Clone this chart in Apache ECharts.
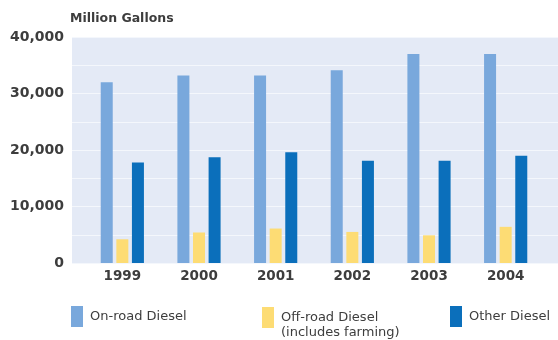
<!DOCTYPE html>
<html>
<head>
<meta charset="utf-8">
<script src="https://cdn.jsdelivr.net/npm/echarts@6/dist/echarts.min.js"></script>
<style>
  html, body { margin: 0; padding: 0; background: #ffffff; }
  #chart { width: 558px; height: 340px; }
</style>
</head>
<body>
<div id="chart"></div>
<script>
// Diesel fuel use by type, million gallons
const years = ['1999', '2000', '2001', '2002', '2003', '2004'];
const onRoad = [32000, 33200, 33200, 34100, 37000, 37000];
const offRoad = [4200, 5400, 6100, 5500, 4900, 6400];
const otherDiesel = [17800, 18700, 19600, 18100, 18100, 19000];
const yTicks = [0, 10000, 20000, 30000, 40000];

const FONT = '"DejaVu Sans", sans-serif';
const TEXT = '#3d3d3d';
const colors = { onRoad: '#79a8dc', offRoad: '#fddc74', other: '#0b6fbb' };

const chart = echarts.init(document.getElementById('chart'), null, { renderer: 'canvas' });

// One legend per series so each entry sits at its own position.
// A leading blank line keeps the first line of a two-line label level with the swatch.
function legendAt(left, top, name, topAlignLines) {
  return {
    left: left, top: top, orient: 'horizontal', padding: 0,
    itemWidth: 12, itemHeight: 21, itemGap: 0,
    icon: 'rect', selectedMode: false,
    formatter: n => topAlignLines ? '\n' + n : n,
    textStyle: { fontFamily: FONT, fontSize: 13, color: TEXT, lineHeight: 15, padding: [0, 0, 0, 2] },
    data: [name]
  };
}

chart.setOption({
  animation: false,
  title: {
    text: 'Million Gallons', left: 70, top: 12, padding: 0,
    textStyle: { fontFamily: FONT, fontSize: 12.5, fontWeight: 'bold', color: TEXT }
  },
  legend: [
    legendAt(71, 306, 'On-road Diesel', false),
    legendAt(262, 295, 'Off-road Diesel\n(includes farming)', true),
    legendAt(450, 306, 'Other Diesel', false)
  ],
  grid: [
    { left: 72, right: 0, top: 37, bottom: 77, show: true, backgroundColor: '#e4eaf6', borderWidth: 0 },
    { left: 84, right: 14, top: 37, bottom: 77 }
  ],
  xAxis: [
    { gridIndex: 0, type: 'value', show: false, min: 0, max: 1 },
    {
      gridIndex: 1, type: 'category', data: years,
      axisLine: { show: false }, axisTick: { show: false },
      axisLabel: { fontFamily: FONT, fontSize: 13.5, fontWeight: 'bold', color: TEXT, margin: 6 }
    }
  ],
  yAxis: [
    {
      gridIndex: 0, type: 'value', min: 0, max: 40000, interval: 5000,
      axisLine: { show: false }, axisTick: { show: false },
      splitLine: { show: true, lineStyle: { color: '#f4f7fc', width: 1.2 } },
      axisLabel: {
        fontFamily: FONT, fontSize: 14, fontWeight: 'bold', color: TEXT, margin: 8,
        padding: [3, 0, 0, 0],
        formatter: v => yTicks.includes(v) ? v.toLocaleString('en-US') : ''
      }
    },
    { gridIndex: 1, type: 'value', min: 0, max: 40000, show: false, splitLine: { show: false } }
  ],
  series: [
    { name: 'On-road Diesel', type: 'bar', xAxisIndex: 1, yAxisIndex: 1, data: onRoad,
      barWidth: 12, barGap: '30%', itemStyle: { color: colors.onRoad } },
    { name: 'Off-road Diesel\n(includes farming)', type: 'bar', xAxisIndex: 1, yAxisIndex: 1, data: offRoad,
      barWidth: 12, barGap: '30%', itemStyle: { color: colors.offRoad } },
    { name: 'Other Diesel', type: 'bar', xAxisIndex: 1, yAxisIndex: 1, data: otherDiesel,
      barWidth: 12, barGap: '30%', itemStyle: { color: colors.other } }
  ]
});
</script>
</body>
</html>
